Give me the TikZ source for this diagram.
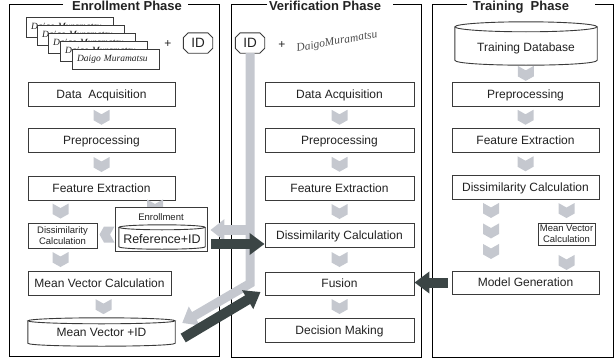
\documentclass[tikz,border=0pt]{standalone}
\usepackage{fontspec}
\setmainfont{Liberation Sans}
\newfontfamily\handfont{Liberation Serif}
\usetikzlibrary{arrows.meta,calc}

\definecolor{chevc}{HTML}{C5C8CF}
\definecolor{darkc}{HTML}{3B4545}
\definecolor{linec}{HTML}{3A3A3A}
\definecolor{txtc}{HTML}{222222}

\tikzset{
  every node/.append style={text=txtc},
  panel/.style={draw=black, line width=0.8pt},
  title/.style={font=\fontsize{13}{15}\selectfont\bfseries, anchor=base, inner sep=0pt},
  stepbox/.style={draw=linec, line width=0.9pt, fill=white, minimum height=24pt,
    minimum width=147pt, inner sep=0pt, text height=8.6pt, text depth=0pt,
    font=\fontsize{12}{14}\selectfont},
  smallbox/.style={draw=linec, line width=0.9pt, fill=white, inner sep=0pt, align=center,
    font=\fontsize{9.5}{11}\selectfont},
  cylline/.style={draw=linec, line width=0.9pt, fill=white},
  area/.style={inner sep=0pt, draw=none},
  cyltext/.style={inner sep=0pt, text height=8.6pt, text depth=0pt,
    font=\fontsize{12}{14}\selectfont},
  card/.style={draw=linec, line width=0.8pt, fill=white, minimum width=87pt,
    minimum height=20pt, inner sep=0pt, text width=77pt, align=left,
    font=\handfont\itshape\fontsize{9.5}{11}\selectfont},
  idtag/.style={area, minimum width=29pt, minimum height=20pt,
    font=\fontsize{13.5}{15}\selectfont},
  plus/.style={inner sep=0pt, font=\fontsize{12}{14}\selectfont},
  lightarrow/.style={draw=chevc, line width=9pt, -{Triangle[length=14pt,width=21pt]}},
  darkarrow/.style={draw=darkc, line width=10pt, -{Triangle[length=15pt,width=21pt]}},
  chevd/.pic={\fill[chevc] (-8,7.5) -- (0,3) -- (8,7.5) -- (8,-3) -- (0,-7.5) -- (-8,-3) -- cycle;},
}

% cylinder drawn around an empty area node: #1 node, #2 x radius, #3 y radius
\newcommand\cylaround[3]{%
  \filldraw[cylline] ($(#1.north west)+(0,-#3)$) -- ($(#1.south west)+(0,#3)$)
    .. controls ($(#1.south west)+(0,{-#3/3})$) and ($(#1.south east)+(0,{-#3/3})$)
    .. ($(#1.south east)+(0,#3)$) -- ($(#1.north east)+(0,-#3)$);
  \filldraw[cylline] ($(#1.north)+(0,-#3)$) ellipse [x radius=#2, y radius=#3];
}
% octagonal outline around an area node
\newcommand\octaround[2]{%
  \draw[draw=linec, line width=0.9pt]
    ($(#1.north west)+(#2,0)$) -- ($(#1.north east)+(-#2,0)$) -- ($(#1.north east)+(0,-#2)$)
    -- ($(#1.south east)+(0,#2)$) -- ($(#1.south east)+(-#2,0)$) -- ($(#1.south west)+(#2,0)$)
    -- ($(#1.south west)+(0,#2)$) -- ($(#1.north west)+(0,-#2)$) -- cycle;
}

\begin{document}
\begin{tikzpicture}[x=1pt, y=1pt]
\useasboundingbox (0,0) rectangle (616,-364);

% ---------- phase frames ----------
\draw[panel] (63,-4.5) -- (9,-4.5) -- (9,-356) -- (219,-356) -- (219,-4.5) -- (188,-4.5);
\draw[panel] (267,-4.5) -- (231,-4.5) -- (231,-357) -- (421,-357) -- (421,-4.5) -- (393,-4.5);
\draw[panel] (467,-4.5) -- (432,-4.5) -- (432,-357) -- (613,-357) -- (613,-4.5) -- (595,-4.5);
\node[title] (tenr) at (127,-10) {Enrollment Phase};
\node[title] (tver) at (325,-10) {Verification Phase};
\node[title] (ttra) at (521,-10) {Training\ \ Phase};

% ---------- enrollment ----------
\node[card] (card1) at (69.5,-27) {Daigo Muramatsu};
\node[card] (card2) at (80.5,-35) {Daigo Muramatsu};
\node[card] (card3) at (91.5,-43) {Daigo Muramatsu};
\node[card] (card4) at (103.5,-51) {Daigo Muramatsu};
\node[card] (card5) at (115.5,-59) {Daigo Muramatsu};
\node[plus] (eplus) at (168,-44) {+};
\node[idtag] (ide) at (198,-43) {ID};
\octaround{ide}{5}

\node[stepbox] (eda) at (101.5,-94) {Data\ \ Acquisition};
\node[stepbox] (epp) at (101.5,-140.5) {Preprocessing};
\node[stepbox] (efe) at (101.5,-188.5) {Feature Extraction};
\node[smallbox, minimum width=69pt, minimum height=25pt] (edc) at (62.5,-235.5)
  {Dissimilarity\\Calculation};
\node[stepbox, minimum width=143pt] (emv) at (99.5,-283) {Mean Vector Calculation};

% chevron running from feature extraction into the enrollment store
\pic at ($(efe.south)+(53.5,-6)$) {chevd};
\node[draw=linec, line width=0.9pt, fill=white, minimum width=92pt, minimum height=44pt,
  inner sep=0pt] (enr) at (161,-229) {};
\node[inner sep=0pt, font=\fontsize{9.5}{11}\selectfont] (enrlabel) at (161,-217.5) {Enrollment};
\node[area, minimum width=86pt, minimum height=24pt] (eref) at (162,-237) {};
\cylaround{eref}{43}{2.5}
\node[cyltext, font=\fontsize{12.5}{14}\selectfont] (ereftext) at (162,-239) {Reference+ID};

\node[area, minimum width=147pt, minimum height=28pt] (mvid) at (101.5,-332) {};
\cylaround{mvid}{73.5}{3}
\node[cyltext] (mvidtext) at (101.5,-332.5) {Mean Vector +ID};

\pic at ($(eda.south)!0.5!(epp.north)$) {chevd};
\pic at ($(epp.south)!0.5!(efe.north)$) {chevd};
\pic at ($(edc.north)+(-2,11.5)$) {chevd};
\pic at ($(edc.south)!0.5!(edc.south |- emv.north)+(-2,0)$) {chevd};
\pic at ($(emv.south)!0.5!(mvid.north)+(3,0)$) {chevd};
\pic[rotate=-90] at ($(edc.east)!0.5!(enr.west |- edc.east)+(1,1)$) {chevd};

% ---------- verification ----------
\node[idtag] (idv) at (250,-43) {ID};
\octaround{idv}{5}
\node[plus] (vplus) at (282,-45) {+};
\node[inner sep=0pt, rotate=10, text=black!70,
  font=\handfont\itshape\fontsize{11.5}{13}\selectfont] (vsig) at (337,-42) {DaigoMuramatsu};

\node[stepbox, minimum width=149pt] (vda) at (339.5,-94) {Data Acquisition};
\node[stepbox, minimum width=149pt] (vpp) at (339.5,-140.5) {Preprocessing};
\node[stepbox, minimum width=149pt] (vfe) at (339.5,-188) {Feature Extraction};
\node[stepbox, minimum width=149pt] (vdc) at (339.5,-235) {Dissimilarity Calculation};
\node[stepbox, minimum width=149pt, minimum height=23pt] (vfu) at (339.5,-283.5) {Fusion};
\node[stepbox, minimum width=149pt] (vdm) at (339.5,-330) {Decision Making};

\pic at ($(vda.south)!0.5!(vpp.north)$) {chevd};
\pic at ($(vpp.south)!0.5!(vfe.north)$) {chevd};
\pic at ($(vfe.south)!0.5!(vdc.north)$) {chevd};
\pic at ($(vdc.south)!0.5!(vfu.north)$) {chevd};
\pic at ($(vfu.south)!0.5!(vdm.north)$) {chevd};

% ---------- training ----------
\node[area, minimum width=142pt, minimum height=43pt] (tdb) at (526,-43.5) {};
\cylaround{tdb}{71}{5}
\node[cyltext] (tdbtext) at (526,-47) {Training Database};

\node[stepbox] (tpp) at (525.5,-94) {Preprocessing};
\node[stepbox] (tfe) at (525.5,-140.5) {Feature Extraction};
\node[stepbox] (tdc) at (525.5,-187) {Dissimilarity Calculation};
\node[smallbox, minimum width=57pt, minimum height=22pt] (tmvc) at (566.5,-234)
  {Mean Vector\\Calculation};
\node[stepbox, minimum height=23pt] (tmg) at (525.5,-282.5) {Model Generation};

\pic at ($(tdb.south)!0.5!(tpp.north)$) {chevd};
\pic at ($(tpp.south)!0.5!(tfe.north)$) {chevd};
\pic at ($(tfe.south)!0.5!(tdc.north)$) {chevd};
\pic at ($(tdc.south)+(-34.5,-11)$) {chevd};
\pic at ($(tdc.south)+(-34.5,-31.5)$) {chevd};
\pic at ($(tdc.south)+(-34.5,-52)$) {chevd};
\pic at ($(tmvc.north)+(0,12)$) {chevd};
\pic at ($(tmvc.south)+(0,-17)$) {chevd};

% ---------- flows between phases ----------
\coordinate (bend) at (idv.south |- vfu.center);
\coordinate (mvtip) at ($(mvid.east)+(7,9)$);
\coordinate (branch) at ($(idv.south |- enr.east)+(0,-1)$);
\draw[lightarrow] (idv.south) -- (bend) -- (mvtip);
\draw[lightarrow, line width=10pt, shorten >=3pt] (branch) -- (branch -| enr.east);

\coordinate (dstart) at ($(enr.east)+(4,-15)$);
\draw[darkarrow] (dstart) -- (vdc.west |- dstart);
\coordinate (mvout) at ($(mvid.east)+(8,-6)$);
\draw[darkarrow] (mvout) -- ($(vfu.west)+(-4,-8.5)$);
\draw[darkarrow, shorten <=4pt] (tmg.west) -- (vfu.east |- tmg.west);
\end{tikzpicture}
\end{document}
